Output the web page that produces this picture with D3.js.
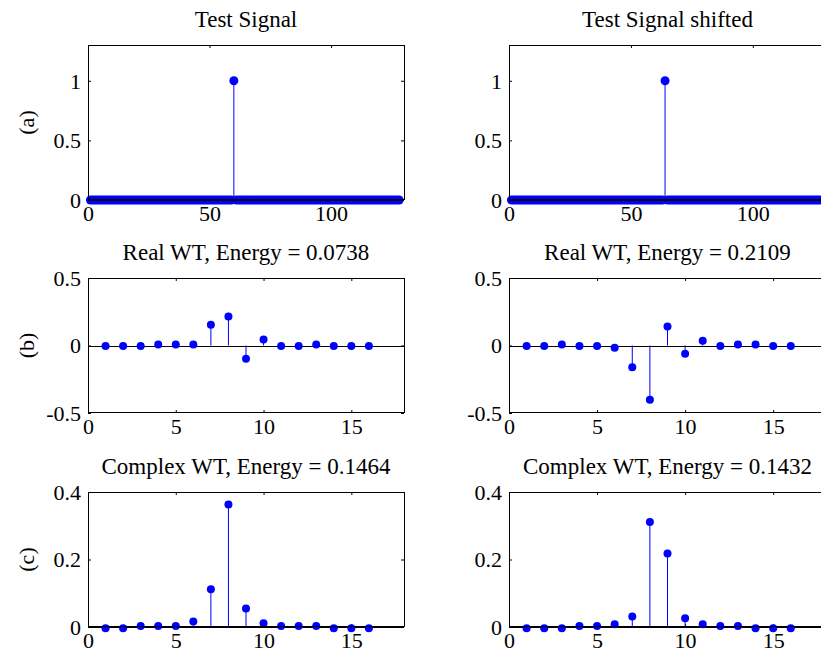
<!DOCTYPE html>
<html>
<head>
<meta charset="utf-8">
<script src="https://cdn.jsdelivr.net/npm/d3@7"></script>
<style>
  body { margin: 0; background: #fff; }
  svg { display: block; overflow: hidden; }
  text { font-family: "Times New Roman", "Liberation Serif", Times, serif; fill: #000; }
</style>
</head>
<body>
<svg id="drawing_region"></svg>
<script>
// ---- data ----
const signal = [
  0,0,0,0,0,0,0,0,0,0,0,0,0,0,0,0,
  0,0,0,0,0,0,0,0,0,0,0,0,0,0,0,0,
  0,0,0,0,0,0,0,0,0,0,0,0,0,0,0,0,
  0,0,0,0,0,0,0,0,0,0,0,1,0,0,0,0,
  0,0,0,0,0,0,0,0,0,0,0,0,0,0,0,0,
  0,0,0,0,0,0,0,0,0,0,0,0,0,0,0,0,
  0,0,0,0,0,0,0,0,0,0,0,0,0,0,0,0,
  0,0,0,0,0,0,0,0,0,0,0,0,0,0,0,0
];
const signal_shifted = [
  0,0,0,0,0,0,0,0,0,0,0,0,0,0,0,0,
  0,0,0,0,0,0,0,0,0,0,0,0,0,0,0,0,
  0,0,0,0,0,0,0,0,0,0,0,0,0,0,0,0,
  0,0,0,0,0,0,0,0,0,0,0,0,0,0,0,1,
  0,0,0,0,0,0,0,0,0,0,0,0,0,0,0,0,
  0,0,0,0,0,0,0,0,0,0,0,0,0,0,0,0,
  0,0,0,0,0,0,0,0,0,0,0,0,0,0,0,0,
  0,0,0,0,0,0,0,0,0,0,0,0,0,0,0,0
];
const real_wt = [-0.004,-0.004,-0.004,0.008,0.008,0.008,0.153,0.215,-0.099,0.045,-0.004,-0.004,0.008,-0.004,-0.004,-0.004];
const real_wt_shifted = [-0.004,-0.004,0.008,-0.004,-0.004,-0.017,-0.161,-0.401,0.141,-0.062,0.035,-0.004,0.008,0.008,-0.004,-0.004];
const cplx_wt = [-0.004,-0.004,0.003,0.003,0.003,0.016,0.112,0.363,0.055,0.011,0.003,0.003,0.003,-0.004,-0.004,-0.004];
const cplx_wt_shifted = [-0.004,-0.004,-0.004,0.003,0.003,0.008,0.031,0.311,0.218,0.026,0.008,0.003,0.003,-0.004,-0.004,-0.004];

const titles = ["Test Signal", "Test Signal shifted",
                "Real WT, Energy = 0.0738", "Real WT, Energy = 0.2109",
                "Complex WT, Energy = 0.1464", "Complex WT, Energy = 0.1432"];
const row_labels = ["(a)", "(b)", "(c)"];

const sig_xticks = [0, 50, 100];
const wt_xticks = [0, 5, 10, 15];
const sig_yticks = [0, 0.5, 1];
const sig_yticklabels = ["0", "0.5", "1"];
const real_yticks = [-0.5, 0, 0.5];
const real_yticklabels = ["-0.5", "0", "0.5"];
const cplx_yticks = [0, 0.2, 0.4];
const cplx_yticklabels = ["0", "0.2", "0.4"];

const FONT = '"Times New Roman", "Liberation Serif", Times, serif';

const svg = d3.select("#drawing_region").attr("width", 821).attr("height", 652);

class StemPlot {
    constructor( config, data ) {
        this.config = config;
        this.data = data;
        this.init();
    }

    init() {
        let self = this;
        self.chart = svg.append('g')
            .attr('transform', `translate(${self.config.left}, ${self.config.top})`);
        self.xscale = d3.scaleLinear()
            .domain(self.config.xdomain)
            .range([0, self.config.width]);
        self.yscale = d3.scaleLinear()
            .domain(self.config.ydomain)
            .range([self.config.height, 0]);
    }

    render() {
        let self = this;
        const w = self.config.width, h = self.config.height;
        const pts = self.data.map( (v, i) => ({x: i + 1, y: v}) );
        const y0 = self.yscale(0);

        // ticks on all four sides, pointing inward
        const xlab = d3.axisBottom(self.xscale).tickValues(self.config.xticks)
            .tickFormat(d => String(d)).tickSize(-3).tickPadding(5);
        const ylab = d3.axisLeft(self.yscale).tickValues(self.config.yticks)
            .tickFormat((d, i) => self.config.yticklabels[i]).tickSize(-3).tickPadding(7);
        const xtop = d3.axisTop(self.xscale).tickValues(self.config.xticks)
            .tickFormat('').tickSize(-3);
        const yright = d3.axisRight(self.yscale).tickValues(self.config.yticks)
            .tickFormat('').tickSize(-3);

        const gx = self.chart.append('g').attr('transform', `translate(0, ${h})`).call(xlab);
        const gy = self.chart.append('g').call(ylab);
        const gt = self.chart.append('g').call(xtop);
        const gr = self.chart.append('g').attr('transform', `translate(${w}, 0)`).call(yright);
        [gx, gy, gt, gr].forEach( g => {
            g.attr('font-family', FONT).attr('font-size', 22);
            g.select('.domain').remove();
            g.selectAll('line').attr('stroke', '#000');
            g.selectAll('text').attr('fill', '#000');
        });
        gy.selectAll('text').attr('dy', '0.33em');

        // stems
        self.chart.selectAll('.stem')
            .data(pts)
            .enter()
            .append('line')
            .attr('x1', d => self.xscale(d.x))
            .attr('x2', d => self.xscale(d.x))
            .attr('y1', y0)
            .attr('y2', d => self.yscale(d.y))
            .attr('stroke', '#0000ff')
            .attr('stroke-width', 1);

        const drawBaseline = () => {
            self.chart.append('line')
                .attr('x1', 0).attr('x2', w)
                .attr('y1', Math.round(y0) + 0.5).attr('y2', Math.round(y0) + 0.5)
                .attr('stroke', '#000')
                .attr('stroke-width', 1);
        };
        if (!self.config.baseline_on_top) drawBaseline();

        // markers
        self.chart.selectAll('.marker')
            .data(pts)
            .enter()
            .append('circle')
            .attr('cx', d => self.xscale(d.x))
            .attr('cy', d => self.yscale(d.y))
            .attr('r', self.config.radius)
            .attr('fill', '#0000ff');

        if (self.config.baseline_on_top) drawBaseline();

        // box
        self.chart.append('rect')
            .attr('x', 0.5).attr('y', 0.5)
            .attr('width', w).attr('height', h - 1)
            .attr('fill', 'none')
            .attr('stroke', '#000')
            .attr('stroke-width', 1);

        self.chart.append('text')
            .attr('x', w / 2)
            .attr('y', -18)
            .attr('text-anchor', 'middle')
            .attr('font-family', FONT)
            .attr('font-size', 23)
            .text(self.config.title);

        if (self.config.ylabel) {
            self.chart.append('text')
                .attr('transform', `translate(${34 - self.config.left}, ${h / 2}) rotate(-90)`)
                .attr('text-anchor', 'middle')
                .attr('font-family', FONT)
                .attr('font-size', 22)
                .text(self.config.ylabel);
        }
    }
}

const cols = [ {left: 88, width: 316}, {left: 509, width: 317} ];
const rows = [
    {top: 45, height: 155, xdomain: [0, 130], ydomain: [0, 1.3], xticks: sig_xticks,
     yticks: sig_yticks, yticklabels: sig_yticklabels, radius: 4.5, baseline_on_top: true,
     series: [signal, signal_shifted]},
    {top: 278, height: 135, xdomain: [0, 18], ydomain: [-0.5, 0.5], xticks: wt_xticks,
     yticks: real_yticks, yticklabels: real_yticklabels, radius: 4, baseline_on_top: false,
     series: [real_wt, real_wt_shifted]},
    {top: 492, height: 135, xdomain: [0, 18], ydomain: [0, 0.4], xticks: wt_xticks,
     yticks: cplx_yticks, yticklabels: cplx_yticklabels, radius: 4, baseline_on_top: false,
     series: [cplx_wt, cplx_wt_shifted]}
];

rows.forEach( (row, r) => {
    cols.forEach( (col, c) => {
        const plot = new StemPlot({
            left: col.left, width: col.width,
            top: row.top, height: row.height,
            xdomain: row.xdomain, ydomain: row.ydomain,
            xticks: row.xticks, yticks: row.yticks, yticklabels: row.yticklabels,
            radius: row.radius, baseline_on_top: row.baseline_on_top,
            title: titles[r * 2 + c],
            ylabel: c === 0 ? row_labels[r] : null
        }, row.series[c]);
        plot.render();
    });
});
</script>
</body>
</html>
